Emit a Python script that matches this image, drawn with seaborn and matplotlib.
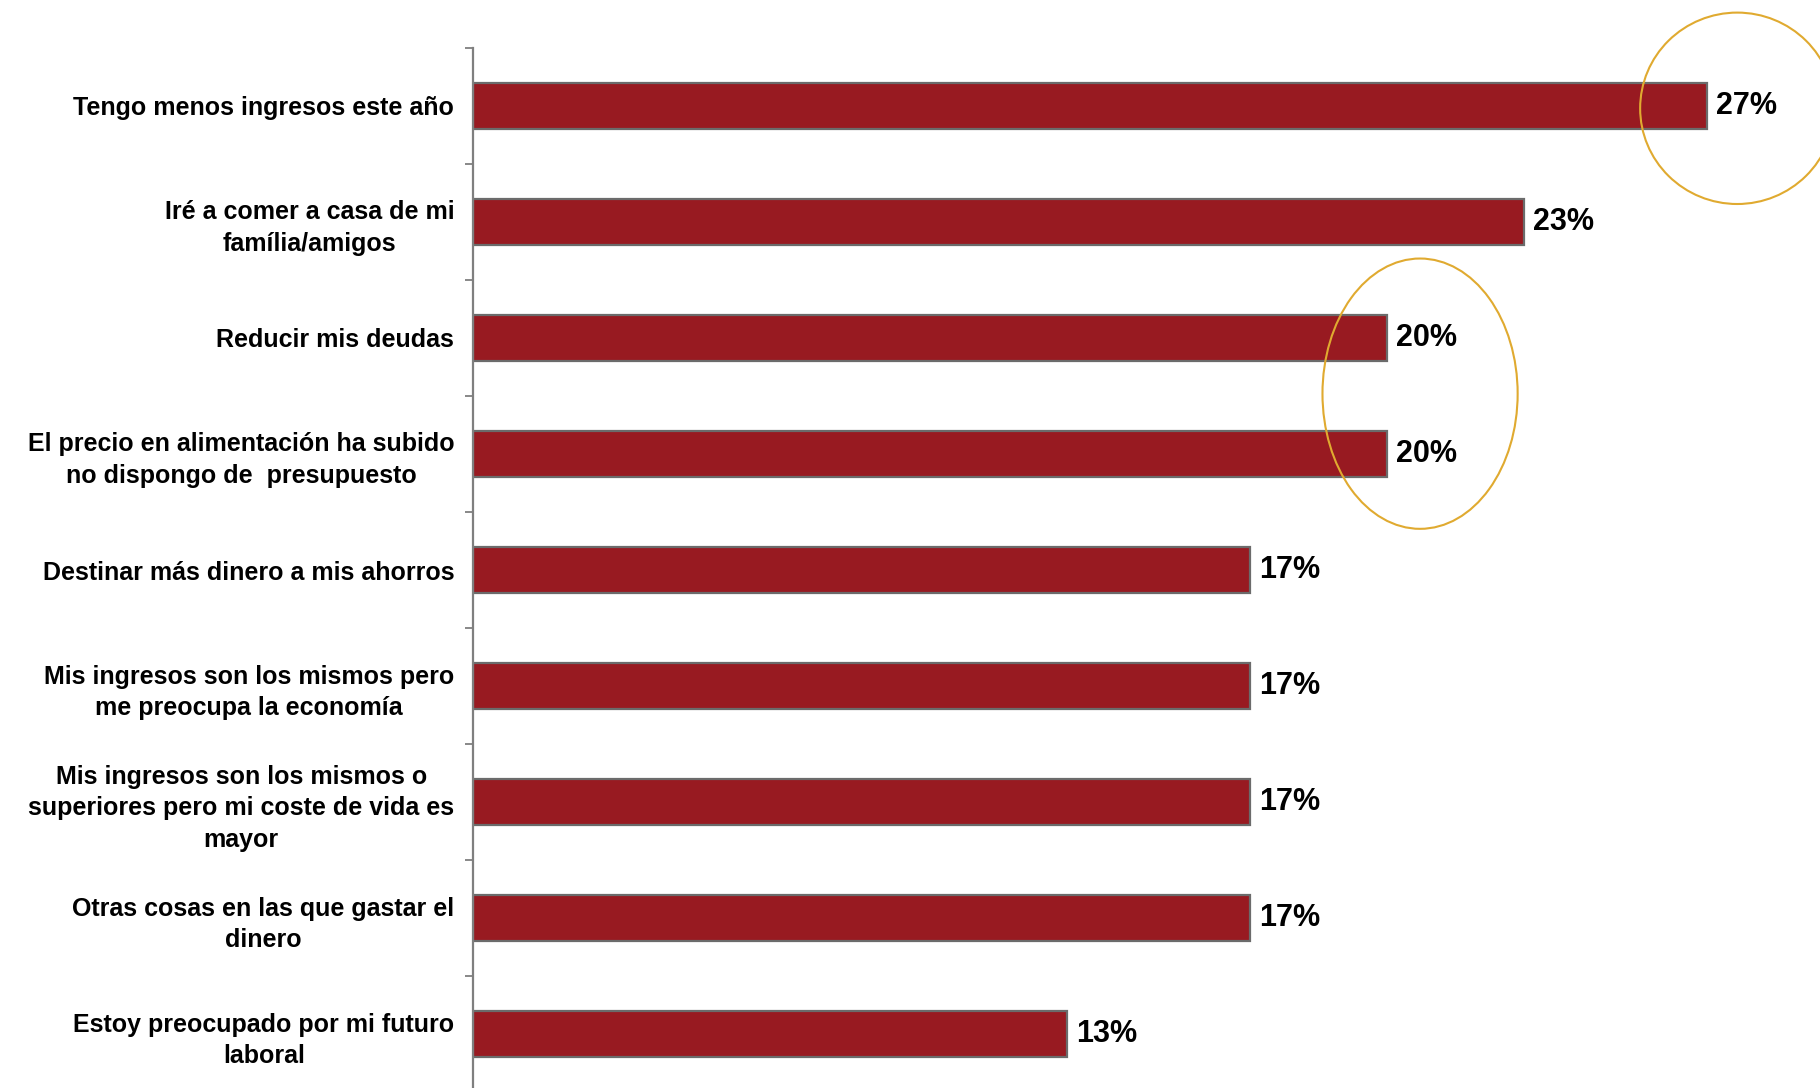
import matplotlib
matplotlib.use("Agg")
import matplotlib.pyplot as plt
from matplotlib.patches import Ellipse
from matplotlib.ticker import FixedLocator
import seaborn as sns
import pandas as pd

# Survey answers and their share of respondents (%)
categories = [
    "Tengo menos ingresos este año",
    "Iré a comer a casa de mi\nfamília/amigos",
    "Reducir mis deudas",
    "El precio en alimentación ha subido\nno dispongo de  presupuesto",
    "Destinar más dinero a mis ahorros",
    "Mis ingresos son los mismos pero\nme preocupa la economía",
    "Mis ingresos son los mismos o\nsuperiores pero mi coste de vida es\nmayor",
    "Otras cosas en las que gastar el\ndinero",
    "Estoy preocupado por mi futuro\nlaboral",
]
values = [27, 23, 20, 20, 17, 17, 17, 17, 13]

BAR_COLOR = "#981A21"
EDGE_COLOR = "#6B6B6B"
RING_COLOR = "#E0AA30"

sns.set_style("white")
plt.rcParams["font.family"] = ["Liberation Sans", "DejaVu Sans"]

df = pd.DataFrame({"motivo": categories, "pct": values})

fig = plt.figure(figsize=(18.2, 10.88), dpi=100)
ax = fig.add_axes([0.2599, -0.0037, 0.7401, 0.9596])

sns.barplot(
    data=df, x="pct", y="motivo", orient="h", ax=ax,
    color=BAR_COLOR, saturation=1, width=0.4,
    edgecolor=EDGE_COLOR, linewidth=1.6,
)

ax.set_xlim(0, 29.47)
ax.set_ylim(len(categories) - 0.5, -0.5)
ax.set_xlabel("")
ax.set_ylabel("")
ax.set_xticks([])

# Category labels centred on bars, tick marks on the boundaries
ax.yaxis.set_minor_locator(FixedLocator([i - 0.5 for i in range(len(categories) + 1)]))
ax.tick_params(axis="y", which="major", length=0, pad=13.5)
ax.tick_params(axis="y", which="minor", length=5.5, width=1.3, color="#7F7F7F", left=True)
for lab in ax.get_yticklabels():
    lab.set_fontsize(18)
    lab.set_fontweight("bold")
    lab.set_multialignment("center")
    lab.set_linespacing(1.4)
    lab.set_color("black")

for side in ["top", "right", "bottom"]:
    ax.spines[side].set_visible(False)
ax.spines["left"].set_color("#7F7F7F")
ax.spines["left"].set_linewidth(1.6)

# Value labels at the end of each bar
ax.bar_label(ax.containers[0], labels=[f"{v}%" for v in values],
             padding=6.5, fontsize=22, fontweight="bold", color="black")

# Highlight rings
ax.add_patch(Ellipse((27.66, 0.02), 4.25, 1.65, fill=False,
                     edgecolor=RING_COLOR, linewidth=1.5, clip_on=False))
ax.add_patch(Ellipse((20.72, 2.48), 4.27, 2.33, fill=False,
                     edgecolor=RING_COLOR, linewidth=1.5, clip_on=False))

fig.savefig("out.png", dpi=100, facecolor="white")
